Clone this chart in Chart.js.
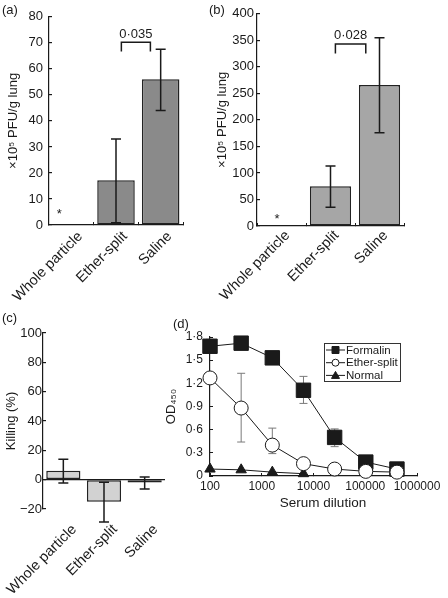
<!DOCTYPE html>
<html>
<head>
<meta charset="utf-8">
<script src="https://cdn.jsdelivr.net/npm/chart.js@4.4.1/dist/chart.umd.min.js"></script>
<style>
  html, body { margin: 0; padding: 0; background: #fff; }
  #wrap { position: relative; width: 448px; height: 598px; overflow: hidden; }
  canvas { position: absolute; }
</style>
</head>
<body>
<div id="wrap">
  <canvas id="chart-a" width="224" height="300" style="left:0;top:0"></canvas>
  <canvas id="chart-b" width="248" height="300" style="left:200px;top:0"></canvas>
  <canvas id="chart-c" width="224" height="298" style="left:0;top:300px"></canvas>
  <canvas id="chart-d" width="298" height="298" style="left:150px;top:300px"></canvas>
</div>
<script>
// values
const groups = ["Whole particle", "Ether-split", "Saline"];

const lungA = [null, 17.2, 56];
const lungALow = [null, 0.9, 44];
const lungAHigh = [null, 33, 67.5];

const lungB = [null, 75, 266];
const lungBLow = [null, 35.5, 176];
const lungBHigh = [null, 113, 355];

const killing = [6, -15, -2];
const killingLow = [-2.3, -28.9, -6.3];
const killingHigh = [14, -1.8, 1.8];

const dilutions = [100, 400, 1600, 6400, 25600, 102400, 409600];
const dilutionTicks = [100, 1000, 10000, 100000, 1000000];
const formalin = [1.68, 1.72, 1.53, 1.11, 0.5, 0.18, 0.09];
const formalinLow = [1.6, null, null, 0.94, 0.38, null, null];
const formalinHigh = [1.77, null, null, 1.29, 0.61, null, null];
const etherSplit = [1.27, 0.88, 0.4, 0.16, 0.09, 0.06, 0.05];
const etherLow = [null, 0.44, 0.29, null, null, null, null];
const etherHigh = [null, 1.33, 0.62, null, null, null, null];
const normalDilutions = [100, 400, 1600, 6400];
const normalSerum = [0.09, 0.08, 0.05, 0.03];

const INK = "#1a1a1a";
Chart.defaults.font.family = '"Liberation Sans", Arial, Helvetica, sans-serif';
Chart.defaults.color = INK;

function points(xs, ys) {
  return xs.map((x, i) => ({ x, y: ys[i] }));
}

function dotNumber(v) {
  return v === 0 ? "0" : v.toFixed(1).replace(".", "\u00b7");
}

function drawErrors(chart, opts) {
  const { ctx } = chart;
  const y = chart.scales.y;
  chart.data.datasets.forEach((ds, i) => {
    if (!ds.errLow) return;
    chart.getDatasetMeta(i).data.forEach((el, j) => {
      const lo = ds.errLow[j];
      const hi = ds.errHigh[j];
      if (lo == null || hi == null) return;
      const x = el.x;
      const y1 = y.getPixelForValue(hi);
      const y2 = y.getPixelForValue(lo);
      ctx.save();
      ctx.strokeStyle = opts.color;
      ctx.lineWidth = opts.width;
      ctx.beginPath();
      ctx.moveTo(x, y1); ctx.lineTo(x, y2);
      ctx.moveTo(x - opts.cap, y1); ctx.lineTo(x + opts.cap, y1);
      ctx.moveTo(x - opts.cap, y2); ctx.lineTo(x + opts.cap, y2);
      ctx.stroke();
      ctx.restore();
    });
  });
}

const errorBars = {
  id: "errorBars",
  beforeDatasetsDraw(chart, args, opts) { if (opts.under) drawErrors(chart, opts); },
  afterDatasetsDraw(chart, args, opts) { if (!opts.under) drawErrors(chart, opts); },
};

// panel letters, p-value brackets, asterisks, free labels
const notes = {
  id: "notes",
  afterDraw(chart, args, opts) {
    const { ctx } = chart;
    const xs = chart.scales.x;
    const ys = chart.scales.y;
    ctx.save();
    ctx.fillStyle = INK;
    ctx.strokeStyle = INK;
    ctx.textBaseline = "middle";
    (opts.brackets || []).forEach((b) => {
      const x1 = xs.getPixelForValue(b.from);
      const x2 = xs.getPixelForValue(b.to);
      const yTop = ys.getPixelForValue(b.y);
      const yLeg = ys.getPixelForValue(b.leg);
      ctx.lineWidth = 1.5;
      ctx.beginPath();
      ctx.moveTo(x1, yLeg); ctx.lineTo(x1, yTop); ctx.lineTo(x2, yTop); ctx.lineTo(x2, yLeg);
      ctx.stroke();
      ctx.font = '13px "Liberation Sans", Arial, sans-serif';
      ctx.textAlign = "center";
      ctx.fillText(b.label, (x1 + x2) / 2, ys.getPixelForValue(b.labelY));
    });
    (opts.marks || []).forEach((m) => {
      ctx.font = '13px "Liberation Sans", Arial, sans-serif';
      ctx.textAlign = "center";
      ctx.fillText(m.text, xs.getPixelForValue(m.x), ys.getPixelForValue(m.y));
    });
    (opts.texts || []).forEach((t) => {
      ctx.font = (t.size || 13) + 'px "Liberation Sans", Arial, sans-serif';
      ctx.textAlign = t.align || "left";
      ctx.fillText(t.text, t.x, t.y);
    });
    ctx.restore();
  },
};

// legend with line + marker samples, as in the figure
const lineLegend = {
  id: "lineLegend",
  afterDraw(chart, args, opts) {
    if (!opts.box) return;
    const { ctx } = chart;
    const b = opts.box;
    ctx.save();
    ctx.strokeStyle = "#333";
    ctx.lineWidth = 1;
    ctx.strokeRect(b.x + 0.5, b.y + 0.5, b.w, b.h);
    chart.data.datasets.forEach((ds, i) => {
      const y = b.y + 7 + i * 12.7;
      const x0 = b.x + 2;
      const x1 = b.x + 21;
      const xm = (x0 + x1) / 2;
      ctx.strokeStyle = INK;
      ctx.beginPath(); ctx.moveTo(x0, y); ctx.lineTo(x1, y); ctx.stroke();
      ctx.fillStyle = ds.pointBackgroundColor;
      ctx.beginPath();
      if (ds.pointStyle === "rect") ctx.rect(xm - 3.5, y - 3.5, 7, 7);
      else if (ds.pointStyle === "circle") ctx.arc(xm, y, 3.5, 0, Math.PI * 2);
      else { ctx.moveTo(xm, y - 4); ctx.lineTo(xm + 4, y + 3); ctx.lineTo(xm - 4, y + 3); ctx.closePath(); }
      ctx.fill(); ctx.stroke();
      ctx.fillStyle = INK;
      ctx.font = '11.5px "Liberation Sans", Arial, sans-serif';
      ctx.textBaseline = "middle";
      ctx.textAlign = "left";
      ctx.fillText(ds.label, x1 + 1, y + 0.5);
    });
    ctx.restore();
  },
};

function yAxis({ min, max, step, width, title, titlePad, tickPad, fmt, zeroLine }) {
  return {
    min, max,
    afterFit(scale) { scale.width = width; },
    border: { color: INK, width: 1.2 },
    grid: {
      drawOnChartArea: !!zeroLine,
      color: zeroLine ? (c) => (c.tick && c.tick.value === 0 ? INK : "transparent") : INK,
      lineWidth: 1.2,
      tickColor: INK,
      tickLength: -3,
    },
    ticks: { stepSize: step, padding: tickPad, font: { size: 13 }, color: INK, callback: fmt },
    title: { display: true, text: title, font: { size: 13 }, color: INK, padding: { top: titlePad, bottom: 0 } },
  };
}

function xCategory({ height, pad, shift, showAxis }) {
  return {
    afterFit(scale) {
      scale.height = height;
      // long rotated labels may hang past the y axis; keep the plot where it is
      scale.paddingLeft = 0;
      scale.paddingRight = 0;
    },
    border: { display: showAxis, color: INK, width: 1.2 },
    grid: { display: showAxis, drawOnChartArea: false, tickLength: -3, color: INK, offset: true },
    ticks: {
      minRotation: 45, maxRotation: 45, autoSkip: false, padding: pad, labelOffset: shift,
      font: { size: 14.5 }, color: INK,
    },
  };
}

function barChart(id, cfg) {
  new Chart(document.getElementById(id), {
    type: "bar",
    data: {
      labels: groups,
      datasets: [{
        data: cfg.values,
        errLow: cfg.low,
        errHigh: cfg.high,
        backgroundColor: cfg.fill,
        borderColor: "#222",
        borderWidth: 1.5,
        borderSkipped: false,
        barPercentage: 0.84,
        categoryPercentage: 1,
      }],
    },
    options: {
      responsive: false,
      animation: false,
      devicePixelRatio: 1,
      layout: { autoPadding: false, padding: cfg.padding },
      plugins: {
        legend: { display: false },
        tooltip: { enabled: false },
        errorBars: { color: INK, width: 1.5, cap: 5 },
        notes: cfg.notes,
      },
      scales: { x: cfg.x, y: cfg.y },
    },
    plugins: [errorBars, notes],
  });
}

barChart("chart-a", {
  values: lungA, low: lungALow, high: lungAHigh, fill: "#8a8a8a",
  padding: { top: 11, right: 41, bottom: 0, left: 0 },
  x: xCategory({ height: 75, pad: 6, shift: 9, showAxis: true }),
  y: yAxis({ min: 0, max: 80, step: 10, width: 49, title: "\u00d710\u2075 PFU/g lung", titlePad: 6, tickPad: 9 }),
  notes: {
    brackets: [{ from: 1.12, to: 1.77, y: 70.2, leg: 66.7, label: "0\u00b7035", labelY: 73.3 }],
    marks: [{ text: "*", x: -0.27, y: 4.2 }],
    texts: [{ text: "(a)", x: 2, y: 10, size: 13 }],
  },
});

barChart("chart-b", {
  values: lungB, low: lungBLow, high: lungBHigh, fill: "#a6a6a6",
  padding: { top: 8, right: 44, bottom: 0, left: 0 },
  x: xCategory({ height: 74, pad: 4, shift: 6, showAxis: true }),
  y: yAxis({ min: 0, max: 400, step: 50, width: 57, title: "\u00d710\u2075 PFU/g lung", titlePad: 15, tickPad: 6 }),
  notes: {
    brackets: [{ from: 1.1, to: 1.72, y: 343, leg: 325, label: "0\u00b7028", labelY: 360 }],
    marks: [{ text: "*", x: -0.09, y: 11.6 }],
    texts: [{ text: "(b)", x: 9, y: 10, size: 13 }],
  },
});

barChart("chart-c", {
  values: killing, low: killingLow, high: killingHigh, fill: "#d2d2d2",
  padding: { top: 33, right: 59, bottom: 0, left: 0 },
  x: xCategory({ height: 89, pad: 15, shift: 11, showAxis: false }),
  y: yAxis({
    min: -20, max: 100, step: 20, width: 43, title: "Killing (%)", titlePad: 4, tickPad: 4,
    fmt: (v) => (v < 0 ? "\u2212" + Math.abs(v) : String(v)), zeroLine: true,
  }),
  notes: { texts: [{ text: "(c)", x: 2, y: 18, size: 13 }] },
});

new Chart(document.getElementById("chart-d"), {
  type: "line",
  data: {
    datasets: [
      {
        label: "Formalin", data: points(dilutions, formalin), errLow: formalinLow, errHigh: formalinHigh,
        borderColor: INK, borderWidth: 1, pointStyle: "rect", pointRadius: 10.2,
        pointBackgroundColor: INK, pointBorderColor: INK, pointBorderWidth: 1, order: 2, clip: false,
      },
      {
        label: "Ether-split", data: points(dilutions, etherSplit), errLow: etherLow, errHigh: etherHigh,
        borderColor: INK, borderWidth: 1, pointStyle: "circle", pointRadius: 7,
        pointBackgroundColor: "#fff", pointBorderColor: INK, pointBorderWidth: 1, order: 1, clip: false,
      },
      {
        label: "Normal", data: points(normalDilutions, normalSerum),
        borderColor: INK, borderWidth: 1, pointStyle: "triangle", pointRadius: 6,
        pointBackgroundColor: INK, pointBorderColor: INK, pointBorderWidth: 1, order: 3, clip: false,
      },
    ],
  },
  options: {
    responsive: false,
    animation: false,
    devicePixelRatio: 1,
    layout: { autoPadding: false, padding: { top: 37, right: 31, bottom: 82, left: 0 } },
    plugins: {
      legend: { display: false },
      tooltip: { enabled: false },
      errorBars: { color: "#7a7a7a", width: 1, cap: 4, under: true },
      lineLegend: { box: { x: 174, y: 43, w: 76, h: 38 } },
      notes: {
        texts: [
          { text: "(d)", x: 23, y: 24, size: 13 },
          { text: "Serum dilution", x: 173, y: 203, size: 13.5, align: "center" },
        ],
      },
    },
    scales: {
      x: {
        type: "logarithmic",
        min: 100,
        max: 1000000,
        afterFit(scale) { scale.height = 40; },
        afterBuildTicks(scale) { scale.ticks = dilutionTicks.map((value) => ({ value })); },
        border: { color: INK, width: 1.2 },
        grid: { drawOnChartArea: false, tickLength: -3, color: INK },
        ticks: { autoSkip: false, maxRotation: 0, padding: 6, font: { size: 12 }, color: INK, callback: (v) => String(v) },
      },
      y: {
        min: 0,
        max: 1.8,
        afterFit(scale) { scale.width = 60; },
        border: { color: INK, width: 1.2 },
        grid: { drawOnChartArea: false, tickLength: -3, color: INK },
        ticks: { stepSize: 0.3, padding: 10, font: { size: 12 }, color: INK, callback: (v) => dotNumber(v) },
        title: { display: true, text: "OD\u2084\u2085\u2080", font: { size: 13 }, color: INK, padding: { top: 14, bottom: 0 } },
      },
    },
  },
  plugins: [errorBars, lineLegend, notes],
});
</script>
</body>
</html>
